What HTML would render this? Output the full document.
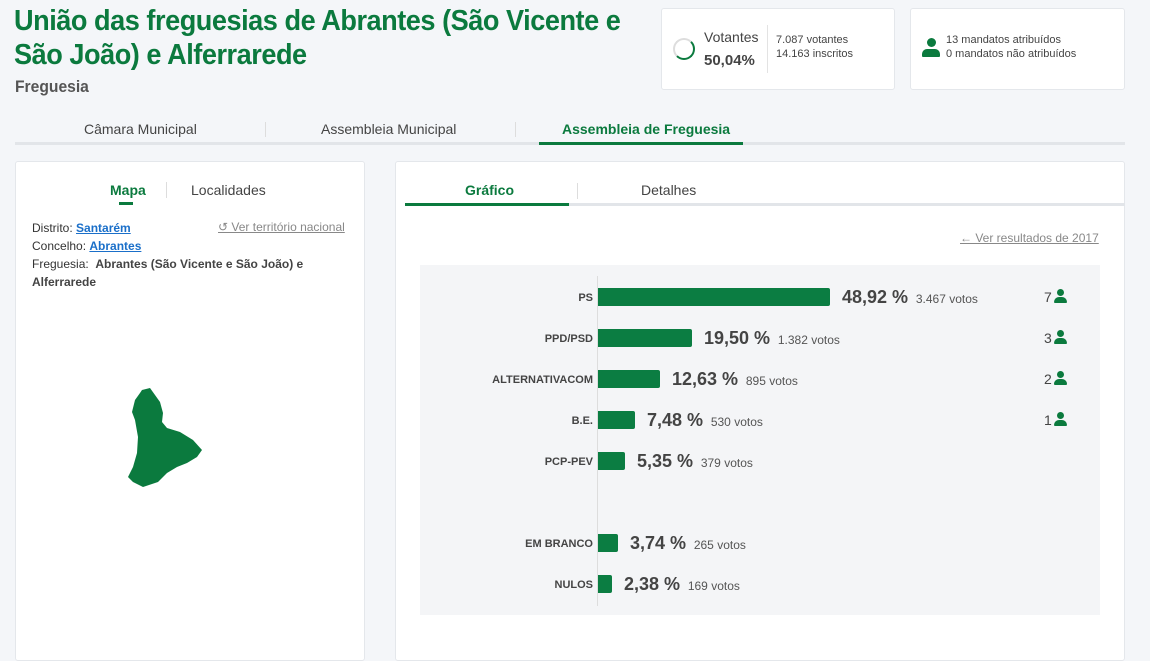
<!DOCTYPE html>
<html><head><meta charset="utf-8"><style>
*{margin:0;padding:0;box-sizing:border-box}
body{width:1150px;height:654px;background:#f4f6f9;font-family:"Liberation Sans",sans-serif;position:relative;overflow:hidden;color:#333}
.a{position:absolute;white-space:nowrap}
.g{color:#0b7a3e}
.card{position:absolute;background:#fff;border:1px solid #e4e7eb;border-radius:3px}
.lbl{position:absolute;right:557px;font-size:11px;font-weight:bold;color:#444;text-align:right}
.bar{position:absolute;left:598px;height:18px;background:#0b7d42;border-radius:0 2px 2px 0}
.pct{font-size:18px;font-weight:bold;color:#444}
.v{font-size:12px;color:#555}
.m{position:absolute;left:1044px;font-size:14px;color:#444}
.ic{display:inline-block;width:13px;height:14px;position:relative;vertical-align:-1px;margin-left:2px}
.ic:before{content:"";position:absolute;left:3px;top:0;width:7px;height:7px;border-radius:50%;background:#0b7a3e}
.ic:after{content:"";position:absolute;left:0;top:8px;width:13px;height:6px;border-radius:5px 5px 1px 1px;background:#0b7a3e}
.big:before{left:5px;width:9px;height:9px}
.big:after{top:11px;width:18px;height:8px}
a{color:#1a6fc9}
</style></head><body>
<div class="a g" style="left:14px;top:4px;font-size:29px;line-height:34px;font-weight:bold;letter-spacing:-0.5px;transform:scaleX(0.935);transform-origin:0 0">União das freguesias de Abrantes (São Vicente e<br>São João) e Alferrarede</div>
<div class="a" style="left:15px;top:77px;font-size:17px;font-weight:bold;color:#555;transform:scaleX(0.92);transform-origin:0 0">Freguesia</div>

<div class="card" style="left:661px;top:8px;width:234px;height:82px"></div>
<div class="a" style="left:673px;top:38px;width:22px;height:22px;border-radius:50%;border:2px solid #ddd;border-right-color:#0b7a3e;border-bottom-color:#0b7a3e"></div>
<div class="a" style="left:704px;top:29px;font-size:14px;color:#444">Votantes</div>
<div class="a" style="left:704px;top:52px;font-size:15px;font-weight:bold;color:#444">50,04%</div>
<div class="a" style="left:767px;top:25px;width:1px;height:48px;background:#e3e3e3"></div>
<div class="a" style="left:776px;top:33px;font-size:11px;color:#444;line-height:14px">7.087 votantes<br>14.163 inscritos</div>

<div class="card" style="left:910px;top:8px;width:215px;height:82px"></div>
<div class="a" style="left:920px;top:38px"><span class="ic big" style="width:18px;height:20px"></span></div>
<div class="a" style="left:946px;top:33px;font-size:11px;color:#444;line-height:14px">13 mandatos atribuídos<br>0 mandatos não atribuídos</div>

<div class="a" style="left:15px;top:142px;width:1110px;height:3px;background:#e2e5e9"></div>
<div class="a" style="left:539px;top:142px;width:204px;height:3px;background:#0b7a3e"></div>
<div class="a" style="left:84px;top:121px;font-size:14px;color:#444">Câmara Municipal</div>
<div class="a" style="left:265px;top:122px;width:1px;height:15px;background:#ddd"></div>
<div class="a" style="left:321px;top:121px;font-size:14px;color:#444">Assembleia Municipal</div>
<div class="a" style="left:515px;top:122px;width:1px;height:15px;background:#ddd"></div>
<div class="a g" style="left:562px;top:121px;font-size:14px;font-weight:bold">Assembleia de Freguesia</div>

<div class="card" style="left:15px;top:161px;width:350px;height:500px"></div>
<div class="a g" style="left:110px;top:182px;font-size:14px;font-weight:bold">Mapa</div>
<div class="a" style="left:119px;top:202px;width:14px;height:3px;background:#0b7a3e"></div>
<div class="a" style="left:166px;top:182px;width:1px;height:16px;background:#ddd"></div>
<div class="a" style="left:191px;top:182px;font-size:14px;color:#444">Localidades</div>
<div class="a" style="left:32px;top:219px;font-size:12px;line-height:18px;color:#333">Distrito: <a href="#" style="font-weight:bold">Santarém</a><br>Concelho: <a href="#" style="font-weight:bold">Abrantes</a><br>Freguesia:&nbsp; <b style="color:#444">Abrantes (São Vicente e São João) e</b><br><b style="color:#444">Alferrarede</b></div>
<div class="a" style="left:218px;top:220px;font-size:12px;color:#888;text-decoration:underline">↺ Ver território nacional</div>
<svg class="a" style="left:0;top:0" width="360" height="654"><polygon fill="#0b7a3e" points="142,390 150,388 155,395 160,402 163,413 162,422 167,428 180,432 193,440 202,450 197,457 187,463 177,467 167,473 158,482 143,487 133,482 128,477 133,467 137,453 138,437 135,420 132,412 135,400 140,393"/></svg>

<div class="card" style="left:395px;top:161px;width:730px;height:500px"></div>
<div class="a" style="left:405px;top:203px;width:720px;height:3px;background:#e2e5e9"></div>
<div class="a" style="left:405px;top:203px;width:164px;height:3px;background:#0b7a3e"></div>
<div class="a g" style="left:465px;top:182px;font-size:14px;font-weight:bold">Gráfico</div>
<div class="a" style="left:577px;top:183px;width:1px;height:16px;background:#ddd"></div>
<div class="a" style="left:641px;top:182px;font-size:14px;color:#444">Detalhes</div>
<div class="a" style="left:960px;top:231px;font-size:12px;color:#888;text-decoration:underline">← Ver resultados de 2017</div>

<div class="a" style="left:420px;top:265px;width:680px;height:350px;background:#f4f5f7"></div>
<div class="a" style="left:597px;top:276px;width:1px;height:330px;background:#ddd"></div>

<div class="lbl" style="top:292px">PS</div><div class="bar" style="top:288px;width:232px"></div>
<div class="a" style="left:842px;top:287px"><span class="pct">48,92 %</span> <span class="v">&nbsp;3.467 votos</span></div>
<div class="m" style="top:289px">7<span class="ic"></span></div>

<div class="lbl" style="top:333px">PPD/PSD</div><div class="bar" style="top:329px;width:94px"></div>
<div class="a" style="left:704px;top:328px"><span class="pct">19,50 %</span> <span class="v">&nbsp;1.382 votos</span></div>
<div class="m" style="top:330px">3<span class="ic"></span></div>

<div class="lbl" style="top:374px">ALTERNATIVACOM</div><div class="bar" style="top:370px;width:62px"></div>
<div class="a" style="left:672px;top:369px"><span class="pct">12,63 %</span> <span class="v">&nbsp;895 votos</span></div>
<div class="m" style="top:371px">2<span class="ic"></span></div>

<div class="lbl" style="top:415px">B.E.</div><div class="bar" style="top:411px;width:37px"></div>
<div class="a" style="left:647px;top:410px"><span class="pct">7,48 %</span> <span class="v">&nbsp;530 votos</span></div>
<div class="m" style="top:412px">1<span class="ic"></span></div>

<div class="lbl" style="top:456px">PCP-PEV</div><div class="bar" style="top:452px;width:27px"></div>
<div class="a" style="left:637px;top:451px"><span class="pct">5,35 %</span> <span class="v">&nbsp;379 votos</span></div>

<div class="lbl" style="top:538px">EM BRANCO</div><div class="bar" style="top:534px;width:20px"></div>
<div class="a" style="left:630px;top:533px"><span class="pct">3,74 %</span> <span class="v">&nbsp;265 votos</span></div>

<div class="lbl" style="top:579px">NULOS</div><div class="bar" style="top:575px;width:14px"></div>
<div class="a" style="left:624px;top:574px"><span class="pct">2,38 %</span> <span class="v">&nbsp;169 votos</span></div>
</body></html>
